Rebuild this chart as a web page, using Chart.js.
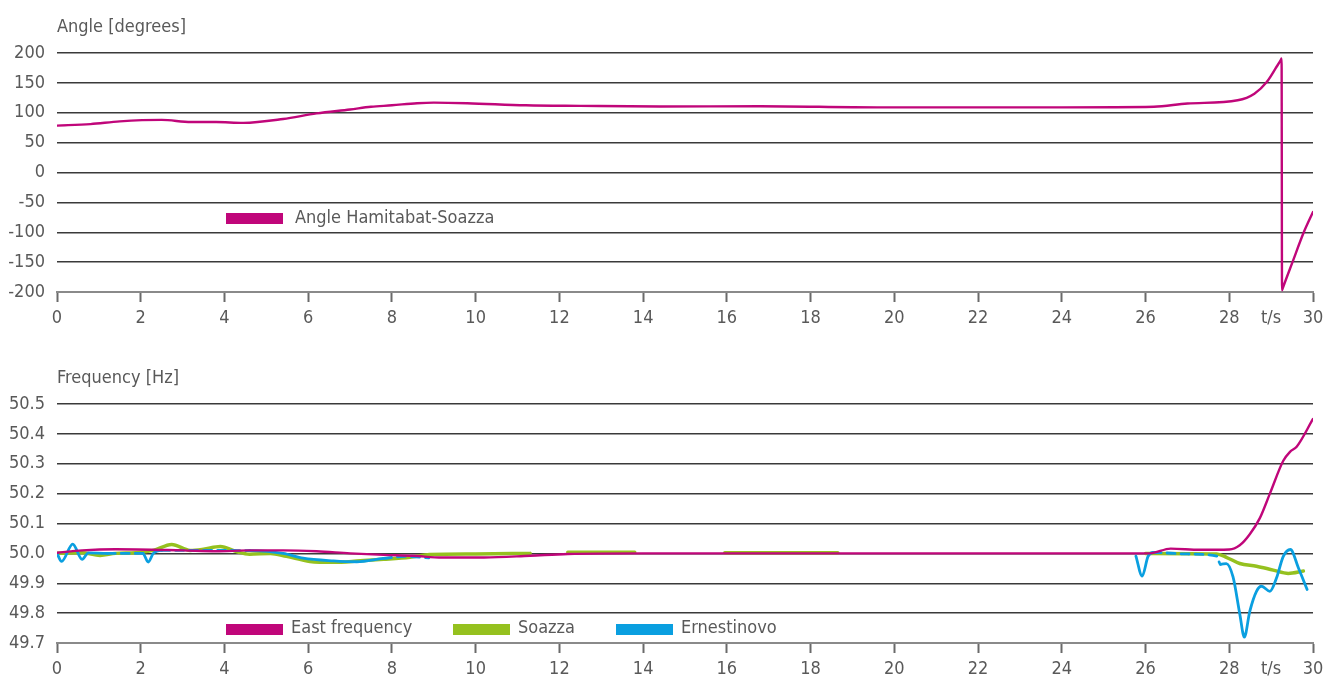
<!DOCTYPE html>
<html>
<head>
<meta charset="utf-8">
<script src="https://cdn.jsdelivr.net/npm/chart.js@4/dist/chart.umd.min.js"></script>
<style>
  html, body { margin: 0; padding: 0; background: #fff; }
  #wrap { position: relative; width: 1324px; height: 679px; overflow: hidden; }
  #angleChart { position: absolute; left: 0; top: 0; }
  #freqChart { position: absolute; left: 0; top: 350px; }
</style>
</head>
<body>
<div id="wrap">
  <canvas id="angleChart" width="1324" height="340"></canvas>
  <canvas id="freqChart" width="1324" height="329"></canvas>
</div>
<script>
// ---- time axis ----
const timeTicks = [0, 2, 4, 6, 8, 10, 12, 14, 16, 18, 20, 22, 24, 26, 28, 30];
const timeUnitLabel = 't/s';
const timeUnitAt = 29;

// ---- angle panel ----
const angleTicks = [-200, -150, -100, -50, 0, 50, 100, 150, 200];
const angleT   = [0, 0.8, 1.5, 2.5, 3.2, 3.8, 4.45, 5.4, 6.2, 7.0, 7.5, 8.0, 8.6, 9.0, 9.8, 11.2, 12.5, 14.4, 16.8, 19.6, 22, 24, 26.2, 27.0, 28.2, 28.6, 28.9, 29.13, 29.24, 29.25, 29.26, 29.27, 29.51, 29.78, 30];
const angleDeg = [78.5, 81, 85.5, 88, 84.5, 84.5, 83, 89.5, 99, 105.5, 110, 112.5, 116, 117, 116, 112.5, 111.5, 110.5, 111, 109, 109, 109, 110, 115.5, 121, 132, 152, 177, 189.5, 191, -197, -195, -150, -100, -66];

// ---- frequency panel ----
const freqTicks = [49.7, 49.8, 49.9, 50.0, 50.1, 50.2, 50.3, 50.4, 50.5];

const eastT  = [0, 0.6, 1.4, 3.0, 3.8, 4.6, 5.4, 6.2, 7.0, 7.8, 8.5, 9.2, 10.2, 11.3, 12.2, 14, 18, 22, 26.1, 26.6, 27.3, 28.0, 28.25, 28.49, 28.73, 28.97, 29.29, 29.45, 29.61, 30];
const eastHz = [50.002, 50.01, 50.014, 50.01, 50.007, 50.01, 50.01, 50.007, 50.0, 49.995, 49.992, 49.986, 49.986, 49.992, 49.998, 50.0, 50.0, 50.0, 50.0, 50.016, 50.012, 50.013, 50.027, 50.064, 50.118, 50.2, 50.31, 50.34, 50.357, 50.45];

const soazzaT  = [0, 0.6, 1.03, 1.4, 1.88, 2.3, 2.74, 3.18, 3.5, 3.9, 4.3, 4.6, 5.1, 5.48, 6.04, 6.6, 7.24, 7.8, 8.43, 8.9, 10, 11.3, 11.75, 12.2, 13.8, 14.9, 15.95, 18.65, 22, 26.0, 27.7, 27.93, 28.25, 28.65, 29.05, 29.41, 29.77];
const soazzaHz = [50.0, 50.002, 49.993, 50.0, 50.002, 50.01, 50.03, 50.01, 50.014, 50.023, 50.005, 49.997, 50.0, 49.99, 49.973, 49.97, 49.975, 49.98, 49.987, 49.996, 49.998, 50.0, null, 50.004, 50.004, null, 50.002, 50.002, null, 50.0, 49.998, 49.987, 49.966, 49.957, 49.944, 49.933, 49.941];

const ernestT  = [0, 0.11, 0.375, 0.6, 0.75, 1.2, 1.75, 2.05, 2.18, 2.3, 2.5, 3.5, 4.6, 5.4, 5.88, 6.6, 7.16, 7.8, 8.35, 8.88, 17, 25.77, 25.92, 26.06, 26.18, 27.0, 27.7, 27.79, 27.93, 28.09, 28.25, 28.36, 28.49, 28.65, 28.77, 28.97, 29.13, 29.29, 29.46, 29.65, 29.86];
const ernestHz = [50.0, 49.973, 50.031, 49.98, 50.002, 50.0, 50.0, 50.0, 49.971, 50.0, 50.01, 50.01, 50.009, 50.0, 49.984, 49.975, 49.972, 49.983, 49.99, 49.985, null, 49.991, 49.924, 49.99, 50.003, 49.998, 49.991, 49.963, 49.966, 49.921, 49.798, 49.72, 49.806, 49.873, 49.89, 49.873, 49.918, 49.99, 50.013, 49.952, 49.879];

// ---- look ----
const FONT_FAMILY = "'DejaVu Sans Condensed', 'DejaVu Sans', sans-serif";
const FONT_SIZE = 18;
const TEXT = '#595959';
const GRID = '#3a3a3a';
const MAGENTA = '#C0067A';
const GREEN = '#95C11F';
const BLUE = '#0A9FE0';

Chart.defaults.font.family = FONT_FAMILY;
Chart.defaults.font.size = FONT_SIZE;
Chart.defaults.color = TEXT;

const pairs = (xs, ys) => xs.map((x, i) => ({ x: x, y: ys[i] }));

// stretches where the Ernestinovo trace is broken into dashes
const dashedSpans = [[0.8, 2.05], [2.4, 4.6], [7.6, 8.9], [26.15, 27.72]];
const inDashedSpan = x => dashedSpans.some(([a, b]) => x >= a && x < b);

// panel heading + in-plot key
const panelText = {
  id: 'panelText',
  afterDraw(chart, args, opts) {
    const ctx = chart.ctx;
    ctx.save();
    ctx.font = FONT_SIZE + 'px ' + FONT_FAMILY;
    ctx.textAlign = 'left';
    ctx.textBaseline = 'alphabetic';
    ctx.fillStyle = TEXT;
    ctx.fillText(opts.title, chart.chartArea.left, opts.titleY);
    opts.items.forEach(it => {
      const ds = chart.data.datasets[it.dataset];
      ctx.fillStyle = ds.borderColor;
      ctx.fillRect(it.x, opts.keyY, 57, 11);
      ctx.fillStyle = TEXT;
      ctx.fillText(ds.label, it.textX, opts.textY);
    });
    ctx.restore();
  }
};

function timeAxis(height) {
  return {
    type: 'linear',
    min: timeTicks[0],
    max: timeTicks[timeTicks.length - 1],
    afterFit: s => { s.height = height; s.paddingLeft = 0; s.paddingRight = 0; },
    afterBuildTicks: s => {
      s.ticks = timeTicks.map(v => ({ value: v }));
      s.ticks.push({ value: timeUnitAt });
      s.ticks.sort((a, b) => a.value - b.value);
    },
    ticks: {
      autoSkip: false,
      maxRotation: 0,
      padding: 6,
      color: TEXT,
      callback: v => (v === timeUnitAt ? timeUnitLabel : String(v))
    },
    grid: {
      drawOnChartArea: false,
      drawTicks: true,
      tickLength: 10,
      tickWidth: 2,
      tickColor: c => (c.tick && c.tick.value === timeUnitAt ? 'rgba(0,0,0,0)' : '#6a6a6a')
    },
    border: { color: '#8a8a8a', width: 2 }
  };
}

function valueAxis(tickValues, fmt) {
  return {
    min: tickValues[0],
    max: tickValues[tickValues.length - 1],
    afterFit: s => { s.width = 57; },
    afterBuildTicks: s => { s.ticks = tickValues.map(v => ({ value: v })); },
    ticks: { padding: 12, color: TEXT, callback: fmt },
    grid: { color: GRID, lineWidth: 1.5, drawTicks: false },
    border: { display: false }
  };
}

const common = {
  responsive: false,
  animation: false,
  events: [],
  elements: { point: { radius: 0 }, line: { cubicInterpolationMode: 'monotone', borderCapStyle: 'round' } },
  plugins: { legend: { display: false }, tooltip: { enabled: false } }
};

new Chart(document.getElementById('angleChart'), {
  type: 'line',
  data: {
    datasets: [{
      label: 'Angle Hamitabat-Soazza',
      data: pairs(angleT, angleDeg),
      borderColor: MAGENTA,
      borderWidth: 2.4
    }]
  },
  options: Object.assign({}, common, {
    layout: { padding: { top: 53, right: 11, left: 0, bottom: 0 } },
    scales: {
      x: timeAxis(48),
      y: valueAxis(angleTicks, v => String(v))
    },
    plugins: Object.assign({}, common.plugins, {
      panelText: {
        title: 'Angle [degrees]', titleY: 31.5,
        keyY: 213, textY: 222.5,
        items: [{ dataset: 0, x: 226, textX: 295 }]
      }
    })
  }),
  plugins: [panelText]
});

new Chart(document.getElementById('freqChart'), {
  type: 'line',
  data: {
    datasets: [{
      label: 'East frequency',
      data: pairs(eastT, eastHz),
      borderColor: MAGENTA,
      borderWidth: 2.4,
      order: 0
    }, {
      label: 'Soazza',
      data: pairs(soazzaT, soazzaHz),
      borderColor: GREEN,
      borderWidth: 3.5,
      order: 2
    }, {
      label: 'Ernestinovo',
      data: pairs(ernestT, ernestHz),
      borderColor: BLUE,
      borderWidth: 2.8,
      order: 1,
      segment: { borderDash: c => (inDashedSpan(c.p0.parsed.x) ? [8, 6] : undefined) }
    }]
  },
  options: Object.assign({}, common, {
    layout: { padding: { top: 54, right: 11, left: 0, bottom: 0 } },
    scales: {
      x: timeAxis(36),
      y: valueAxis(freqTicks, v => Number(v).toFixed(1))
    },
    plugins: Object.assign({}, common.plugins, {
      panelText: {
        title: 'Frequency [Hz]', titleY: 32.5,
        keyY: 274, textY: 283.3,
        items: [
          { dataset: 0, x: 226, textX: 291 },
          { dataset: 1, x: 453, textX: 518 },
          { dataset: 2, x: 616, textX: 681 }
        ]
      }
    })
  }),
  plugins: [panelText]
});
</script>
</body>
</html>
